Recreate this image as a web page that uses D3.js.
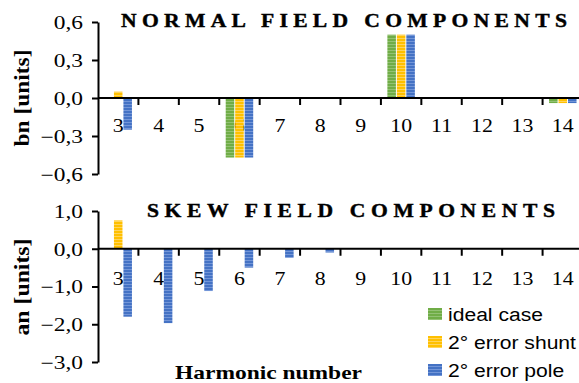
<!DOCTYPE html>
<meta charset="utf-8">
<style>
  body { margin: 0; background: #fff; }
  svg { display: block; }
  .serif { font-family: "Liberation Serif", "Times New Roman", serif; }
  .sans { font-family: "Liberation Sans", Arial, sans-serif; }
</style>
<svg width="579" height="383"></svg>
<script src="https://d3js.org/d3.v7.min.js"></script>
<script>

var harmonics = [3, 4, 5, 6, 7, 8, 9, 10, 11, 12, 13, 14];
var seriesNames = ["ideal case", "2° error shunt", "2° error pole"];

// normal components bn
var bnIdeal = [0, 0, 0, -0.47, 0, 0, 0, 0.5, 0, 0, 0, -0.04];
var bnShunt = [0.05, 0, 0, -0.47, 0, 0, 0, 0.5, 0, 0, 0, -0.04];
var bnPole  = [-0.25, 0, 0, -0.47, 0, 0, 0, 0.5, 0, 0, 0, -0.04];

// skew components an
var anIdeal = [0, 0, 0, 0, 0, 0, 0, 0, 0, 0, 0, 0];
var anShunt = [0.75, 0, 0, 0, 0, 0, 0, 0, 0, 0, 0, 0];
var anPole  = [-1.8, -1.97, -1.12, -0.5, -0.24, -0.1, 0, 0, 0, 0, 0, 0];

var bnTicks = [-0.6, -0.3, 0, 0.3, 0.6];
var anTicks = [-3, -2, -1, 0, 1];

var colors = ["#70ad47", "#ffc000", "#4472c4"];
var stripes = ["#93c274", "#ffd45c", "#7396d8"];

var svg = d3.select("svg");

// striped fills like the office chart
var defs = svg.append("defs");
colors.forEach(function(c, i) {
    var p = defs.append("pattern")
        .attr("id", "pat" + i)
        .attr("patternUnits", "userSpaceOnUse")
        .attr("width", 4).attr("height", 3);
    p.append("rect").attr("width", 4).attr("height", 3).attr("fill", c);
    p.append("rect").attr("y", 2).attr("width", 4).attr("height", 1).attr("fill", stripes[i]);
});

var x0 = 98, x1 = 583;
var xb = d3.scaleBand().domain(harmonics).range([x0, x1]);
var x = d3.scaleBand().domain(harmonics).range([x0, x1]).paddingInner(0.32).paddingOuter(0.16);
var xs = d3.scaleBand().domain(d3.range(3)).range([0, x.bandwidth()]).paddingInner(0.1);

function fmt(v) { return d3.format(".1f")(v).replace(".", ","); }

function panel(opt) {
    var y = d3.scaleLinear().domain(opt.domain).range(opt.range);
    var g = svg.append("g");

    // y axis
    var ya = g.append("g")
        .attr("transform", "translate(" + x0 + ",0)")
        .call(d3.axisLeft(y).tickValues(opt.ticks).tickSize(6).tickSizeOuter(0).tickFormat(fmt));
    ya.attr("font-family", null).attr("font-size", null);
    ya.select(".domain").attr("stroke", "#000").attr("stroke-width", 2);
    ya.selectAll(".tick line").attr("stroke", "#000").attr("stroke-width", 2);
    ya.selectAll(".tick text")
        .attr("class", "serif")
        .attr("x", -15 / 1.3)
        .attr("dy", "0.35em")
        .attr("transform", "scale(1.3,1)")
        .style("font-size", "18px")
        .attr("fill", "#000");

    // x labels (drawn under the bars)
    g.append("g").selectAll("text")
        .data(harmonics)
        .join("text")
        .attr("class", "serif")
        .attr("transform", function(d) {
            return "translate(" + (xb(d) + xb.bandwidth() / 2) + "," + (y(0) + opt.labelOff) + ") scale(1.15,1)";
        })
        .attr("text-anchor", "middle")
        .style("font-size", "19px")
        .text(function(d) { return d; });

    // bars
    opt.series.forEach(function(vals, si) {
        g.append("g").selectAll("rect")
            .data(vals.map(function(v, i) { return { h: harmonics[i], v: v }; }).filter(function(d) { return d.v !== 0; }))
            .join("rect")
            .attr("x", function(d) { return x(d.h) + xs(si); })
            .attr("width", xs.bandwidth())
            .attr("y", function(d) { return Math.min(y(d.v), y(0)); })
            .attr("height", function(d) { return Math.abs(y(d.v) - y(0)); })
            .attr("fill", "url(#pat" + si + ")");
    });

    // x axis line and boundary ticks
    g.append("line")
        .attr("x1", x0).attr("x2", 579)
        .attr("y1", y(0)).attr("y2", y(0))
        .attr("stroke", "#000").attr("stroke-width", 2);
    g.append("g").selectAll("line")
        .data(harmonics.slice(1))
        .join("line")
        .attr("x1", function(d) { return xb(d); })
        .attr("x2", function(d) { return xb(d); })
        .attr("y1", y(0)).attr("y2", y(0) + 7)
        .attr("stroke", "#000").attr("stroke-width", 2);

    // title: wide bold caps, letter spacing worked out to fit the width
    var sx = 1.2;
    var t = g.append("text")
        .attr("class", "serif")
        .attr("transform", "translate(" + opt.titleX + "," + opt.titleY + ") scale(" + sx + ",1)")
        .style("font-size", "18px")
        .style("font-weight", "bold")
        .attr("stroke", "#000")
        .attr("stroke-width", 0.4)
        .text(opt.title);
    var w = t.node().getComputedTextLength();
    var n = opt.title.length;
    t.style("letter-spacing", Math.max(0, (opt.titleLen / sx - w) / (n - 1)) + "px");

    // y title
    g.append("text")
        .attr("class", "serif")
        .attr("transform", "translate(29," + opt.yTitleY + ") rotate(-90)")
        .attr("text-anchor", "middle")
        .attr("textLength", 97)
        .attr("lengthAdjust", "spacingAndGlyphs")
        .style("font-size", "21px")
        .style("font-weight", "bold")
        .text(opt.yTitle);
}

panel({
    domain: [-0.6, 0.6], range: [174, 22], ticks: bnTicks,
    series: [bnIdeal, bnShunt, bnPole], labelOff: 34,
    title: "NORMAL FIELD COMPONENTS", titleX: 121, titleY: 27, titleLen: 446,
    yTitle: "bn [units]", yTitleY: 98
});

panel({
    domain: [-3, 1], range: [362, 211], ticks: anTicks,
    series: [anIdeal, anShunt, anPole], labelOff: 36,
    title: "SKEW FIELD COMPONENTS", titleX: 147, titleY: 217, titleLen: 408,
    yTitle: "an [units]", yTitleY: 287
});

// x title
svg.append("text")
    .attr("class", "serif")
    .attr("x", 175).attr("y", 379)
    .attr("textLength", 187)
    .attr("lengthAdjust", "spacingAndGlyphs")
    .style("font-size", "19px")
    .style("font-weight", "bold")
    .text("Harmonic number");

// legend
var leg = svg.append("g").selectAll("g")
    .data(seriesNames)
    .join("g")
    .attr("transform", function(d, i) { return "translate(428," + (314 + i * 28) + ")"; });
leg.append("rect")
    .attr("y", -6).attr("width", 14).attr("height", 12)
    .attr("fill", function(d, i) { return "url(#pat" + i + ")"; });
leg.append("text")
    .attr("class", "sans")
    .attr("transform", "translate(20,7) scale(1.11,1)")
    .style("font-size", "19px")
    .text(function(d) { return d; });

</script>
